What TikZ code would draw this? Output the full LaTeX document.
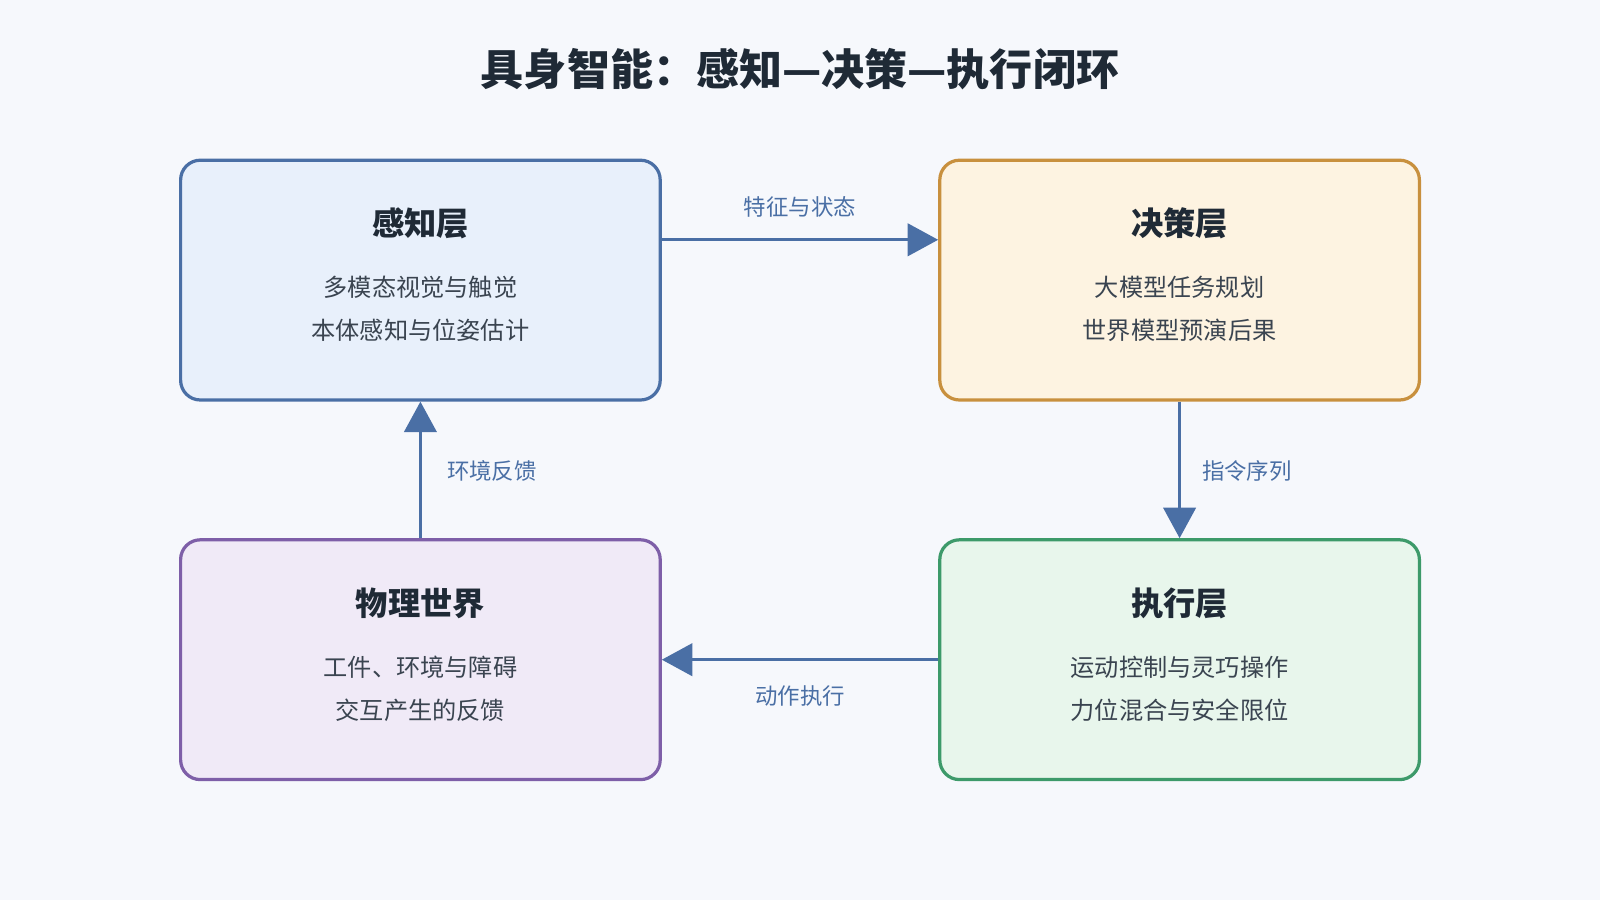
\documentclass[tikz,border=0pt]{standalone}
\usepackage{fontspec}
\setmainfont{Noto Sans CJK SC}
\newfontfamily\cjkb{Noto Sans CJK SC Bold}
\usetikzlibrary{arrows.meta}
\definecolor{bg}{HTML}{F6F8FC}
\definecolor{ac}{HTML}{4A6FA5}
\definecolor{tdark}{HTML}{1F2A36}
\definecolor{tbody}{HTML}{3A4450}
\definecolor{bB}{HTML}{4A6FA5}\definecolor{fB}{HTML}{E8F0FB}
\definecolor{bO}{HTML}{C8903E}\definecolor{fO}{HTML}{FDF3E1}
\definecolor{bP}{HTML}{7E5FA8}\definecolor{fP}{HTML}{F0EAF7}
\definecolor{bG}{HTML}{3D9A6A}\definecolor{fG}{HTML}{E8F6EC}
\begin{document}
\begin{tikzpicture}[x=0.02cm,y=-0.02cm,
 box/.style={draw=#1,line width=1.8pt,rounded corners=11pt,minimum width=470*0.02cm,minimum height=235*0.02cm},
 head/.style={font=\fontsize{18}{20}\selectfont\bfseries,text=tdark},
 body/.style={font=\fontsize{13.5}{24}\selectfont,text=tbody,align=center},
 lab/.style={font=\fontsize{12.5}{14}\selectfont,text=ac},
 arr/.style={draw=ac,line width=1.8pt,-{Triangle[length=17pt,width=18pt]}}]
\fill[bg] (0,0) rectangle (1568,882);
\useasboundingbox (0,0) rectangle (1568,882);
\node[font=\fontsize{24}{28}\selectfont\bfseries,text=tdark] (title) at (784,68) {具身智能：感知—决策—执行闭环};
\node[box=bB,fill=fB] (per) at (412,274.5) {};
\node[box=bO,fill=fO] (dec) at (1156,274.5) {};
\node[box=bP,fill=fP] (phy) at (412,646.5) {};
\node[box=bG,fill=fG] (exe) at (1156,646.5) {};
\node[head] (perh) at (412,219) {感知层};
\node[body] (perb) at (412,303) {多模态视觉与触觉\\本体感知与位姿估计};
\node[head] (dech) at (1156,219) {决策层};
\node[body] (decb) at (1156,303) {大模型任务规划\\世界模型预演后果};
\node[head] (phyh) at (412,591) {物理世界};
\node[body] (phyb) at (412,675) {工件、环境与障碍\\交互产生的反馈};
\node[head] (exeh) at (1156,591) {执行层};
\node[body] (exeb) at (1156,675) {运动控制与灵巧操作\\力位混合与安全限位};
\draw[arr] (per.east |- 0,235) -- (dec.west |- 0,235);
\draw[arr] (dec.south) -- (exe.north);
\draw[arr] (exe.west) -- (phy.east);
\draw[arr] (phy.north) -- (per.south);
\node[lab] (l1) at (784,203) {特征与状态};
\node[lab] (l2) at (1222,462) {指令序列};
\node[lab] (l3) at (784,682) {动作执行};
\node[lab] (l4) at (482,462) {环境反馈};
\end{tikzpicture}
\end{document}
